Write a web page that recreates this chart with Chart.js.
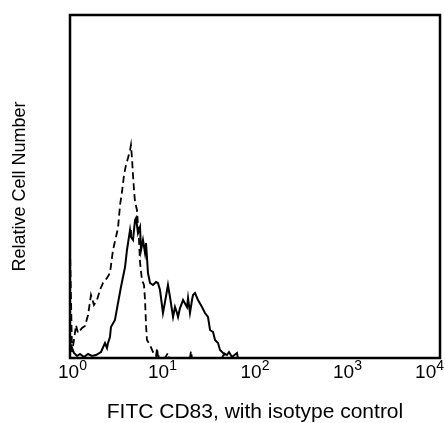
<!DOCTYPE html>
<html>
<head>
<meta charset="utf-8">
<script src="https://cdn.jsdelivr.net/npm/chart.js@4/dist/chart.umd.min.js"></script>
<style>
  html, body { margin: 0; padding: 0; background: #ffffff; }
  #c { display: block; }
</style>
</head>
<body>
<canvas id="c" width="445" height="423"></canvas>
<script>
// x positions in decades (log10 of fluorescence), y = relative cell count
const isotypeX = [0.000,0.022,0.043,0.065,0.086,0.130,0.162,0.195,0.227,0.259,0.292,0.324,0.357,0.400,0.432,0.465,0.497,0.519,0.541,0.562,0.584,0.605,0.627,0.649,0.659,0.670,0.681,0.692,0.703,0.724,0.746,0.757,0.778,0.800,0.811,0.822,0.832,0.865,0.897,0.930,0.941,0.951,1.027,1.059,1.070,1.297,1.308,1.319,1.643,1.665,1.686,4.000];
const isotypeY = [110,6,18,33,25,30,32,43,63,53,58,68,75,80,85,108,121,130,153,166,183,193,200,208,213,200,183,168,156,148,118,96,78,73,58,33,18,13,6,2,10,2,0,5,0,0,7,0,0,4,0,0];

const cd83X = [0.000,0.022,0.043,0.076,0.108,0.151,0.195,0.238,0.281,0.335,0.378,0.400,0.411,0.432,0.443,0.486,0.519,0.551,0.595,0.616,0.649,0.659,0.681,0.703,0.714,0.735,0.757,0.768,0.789,0.811,0.822,0.843,0.865,0.897,0.930,0.951,0.973,1.005,1.027,1.059,1.081,1.114,1.135,1.157,1.168,1.189,1.211,1.222,1.265,1.276,1.297,1.319,1.330,1.351,1.384,1.427,1.459,1.492,1.514,1.546,1.568,1.600,1.622,1.654,1.697,1.719,1.751,1.805,1.816,4.000];
const cd83Y = [15,10,5,2,4,1,4,2,3,6,15,10,15,21,31,38,55,71,91,108,128,121,118,138,140,125,131,108,118,105,115,85,75,73,76,75,68,45,56,73,61,41,51,45,41,50,55,58,51,60,45,58,63,65,58,51,45,41,28,26,18,15,8,5,3,6,1,5,0,0];

const tickExponents = [0, 1, 2, 3, 4];
const tickBase = '10';
const xTitle = 'FITC CD83, with isotype control';
const yTitle = 'Relative Cell Number';

function toPoints(xs, ys) { return xs.map((x, i) => ({ x: x, y: ys[i] })); }

const FONT = '"Liberation Sans", Arial, sans-serif';

const frameAndTicks = {
  id: 'frameAndTicks',
  afterDraw(chart) {
    const ctx = chart.ctx;
    const a = chart.chartArea;
    const xs = chart.scales.x;
    ctx.save();
    ctx.strokeStyle = '#000';
    ctx.lineWidth = 2.5;
    ctx.strokeRect(a.left, a.top, a.right - a.left, a.bottom - a.top);
    ctx.fillStyle = '#000';
    ctx.textBaseline = 'alphabetic';
    ctx.textAlign = 'left';
    tickExponents.forEach(e => {
      const px = xs.getPixelForValue(e);
      ctx.font = '19px ' + FONT;
      const wb = ctx.measureText(tickBase).width;
      ctx.font = '14px ' + FONT;
      const we = ctx.measureText(String(e)).width;
      let left = px - (wb + we) / 2;
      if (left < 58) left = 58;
      if (left + wb + we > 444) left = 444 - wb - we;
      ctx.font = '19px ' + FONT;
      ctx.fillText(tickBase, left, 378);
      ctx.font = '14px ' + FONT;
      ctx.fillText(String(e), left + wb, 370);
    });
    ctx.restore();
  }
};

new Chart(document.getElementById('c'), {
  type: 'line',
  data: {
    datasets: [
      {
        label: 'Isotype control',
        data: toPoints(isotypeX, isotypeY),
        borderColor: '#000',
        borderWidth: 1.8,
        borderDash: [7, 4],
        pointRadius: 0,
        tension: 0,
        fill: false
      },
      {
        label: 'FITC CD83',
        data: toPoints(cd83X, cd83Y),
        borderColor: '#000',
        borderWidth: 2,
        pointRadius: 0,
        tension: 0,
        fill: false
      }
    ]
  },
  options: {
    responsive: false,
    devicePixelRatio: 1,
    animation: false,
    layout: { padding: { top: 15, right: 5, left: 0, bottom: 0 } },
    plugins: { legend: { display: false }, tooltip: { enabled: false } },
    scales: {
      x: {
        type: 'linear',
        min: 0,
        max: 4,
        grid: { display: false, drawTicks: false },
        border: { display: false },
        ticks: { display: false },
        title: {
          display: true,
          text: xTitle,
          color: '#000',
          font: { family: FONT, size: 21, lineHeight: 1 },
          padding: { top: 44, bottom: 0 }
        }
      },
      y: {
        type: 'linear',
        min: 0,
        max: 343,
        grid: { display: false, drawTicks: false },
        border: { display: false },
        ticks: { display: false },
        title: {
          display: true,
          text: yTitle,
          color: '#000',
          font: { family: FONT, size: 18, lineHeight: 1.2 },
          padding: { top: 9, bottom: 39.4 }
        }
      }
    }
  },
  plugins: [frameAndTicks]
});
</script>
</body>
</html>
